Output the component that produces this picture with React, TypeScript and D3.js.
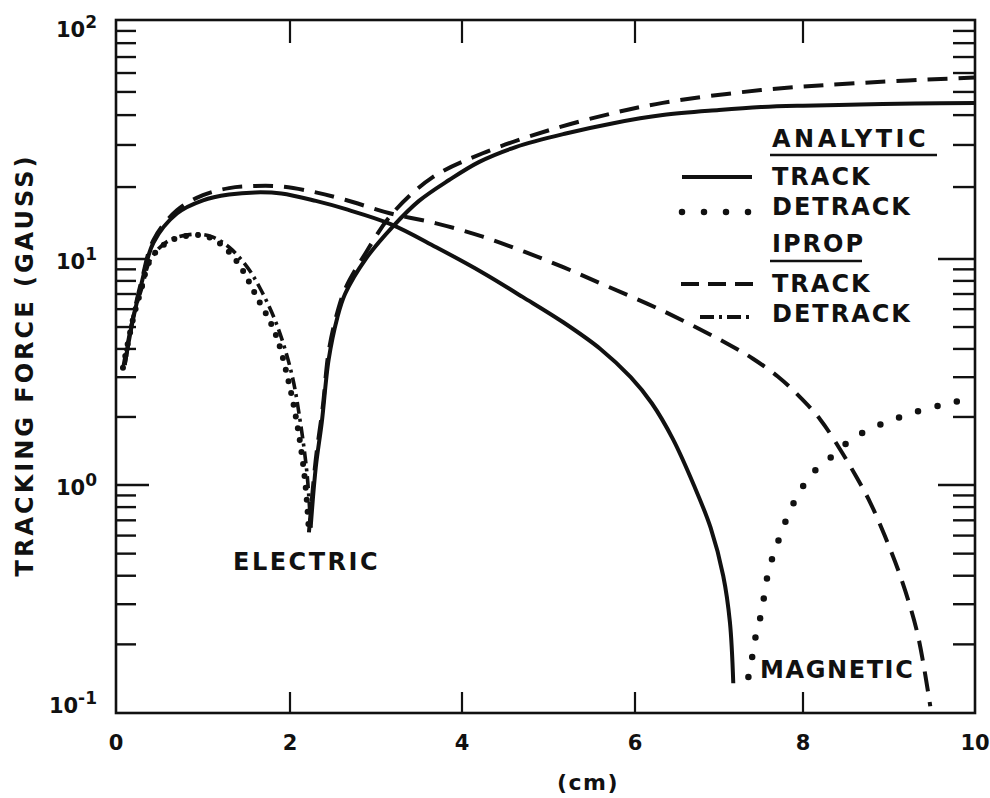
import React from "react";
import * as d3 from "d3";

// Tracking force vs. distance (cm), log scale in gauss.
// Each series is split into its electric and magnetic branches.

const X_TICKS = [0, 2, 4, 6, 8, 10];
const Y_DECADES = [0.1, 1, 10, 100];
const Y_DECADE_LABELS = [
  { base: "10", exp: "-1" },
  { base: "10", exp: "0" },
  { base: "10", exp: "1" },
  { base: "10", exp: "2" },
];

// ANALYTIC – TRACK (solid)
const analyticTrackElectric: [number, number][] = [
  [0.1, 3.4], [0.2, 5.5], [0.3, 8.0], [0.43, 11.7], [0.7, 15.5], [1.0, 17.6],
  [1.3, 18.6], [1.6, 19.0], [1.9, 18.8], [2.3, 17.5], [2.64, 16.2], [3.17, 14.0],
  [3.7, 11.2], [4.24, 8.7], [4.7, 6.8], [5.17, 5.25], [5.6, 4.0], [5.95, 3.0],
  [6.2, 2.3], [6.45, 1.6], [6.7, 1.0], [6.9, 0.65], [7.05, 0.4], [7.13, 0.25],
  [7.17, 0.135],
];
const analyticTrackMagnetic: [number, number][] = [
  [2.24, 0.65], [2.3, 1.2], [2.37, 1.9], [2.45, 3.6], [2.55, 5.5], [2.64, 7.0],
  [2.88, 10.0], [3.19, 13.6], [3.5, 17.5], [3.85, 21.4], [4.2, 25.5], [4.62, 29.4],
  [5.2, 33.5], [5.75, 37], [6.33, 40], [7.0, 42], [7.5, 43.2], [8.0, 43.8],
  [8.66, 44.3], [9.3, 44.7], [10, 45],
];

// ANALYTIC – DETRACK (dotted)
const analyticDetrackElectric: [number, number][] = [
  [0.08, 3.3], [0.2, 5.5], [0.28, 7.1], [0.4, 10], [0.6, 11.8], [0.9, 12.6],
  [1.1, 12.2], [1.29, 10.8], [1.45, 9.0], [1.6, 7.0], [1.83, 4.7], [1.99, 2.8],
  [2.1, 1.7], [2.18, 1.0], [2.22, 0.62],
];
const analyticDetrackMagnetic: [number, number][] = [
  [7.35, 0.144], [7.4, 0.18], [7.44, 0.22], [7.5, 0.27], [7.59, 0.42], [7.67, 0.52],
  [7.75, 0.63], [7.85, 0.78], [7.96, 0.93], [8.08, 1.1], [8.23, 1.24], [8.39, 1.39],
  [8.57, 1.6], [8.9, 1.85], [9.3, 2.1], [9.7, 2.3], [10, 2.45],
];

// IPROP – TRACK (dashed)
const ipropTrackElectric: [number, number][] = [
  [0.1, 3.4], [0.2, 5.6], [0.3, 8.2], [0.43, 12], [0.7, 16], [1.0, 18.5],
  [1.3, 19.8], [1.6, 20.2], [1.9, 20.1], [2.3, 19.0], [2.64, 17.7], [3.17, 15.5],
  [3.7, 14.1], [4.24, 12.4], [4.7, 10.8], [5.17, 9.2], [5.67, 7.6], [6.33, 5.9],
  [7.11, 4.2], [7.4, 3.63], [7.7, 3.02], [7.95, 2.48], [8.2, 1.95], [8.45, 1.4],
  [8.63, 1.07], [8.78, 0.84], [8.95, 0.6], [9.13, 0.4], [9.33, 0.224], [9.48, 0.107],
];
const ipropTrackMagnetic: [number, number][] = [
  [2.22, 0.62], [2.3, 1.3], [2.38, 2.2], [2.45, 3.9], [2.55, 5.8], [2.65, 7.5],
  [2.88, 10.6], [3.19, 15.5], [3.66, 22], [4.24, 27.7], [5.02, 34.7], [5.75, 40.8],
  [6.33, 45], [7.5, 50.9], [8.66, 54.5], [10, 57.5],
];

// IPROP – DETRACK (dash-dot)
const ipropDetrackElectric: [number, number][] = [
  [0.08, 3.3], [0.2, 5.6], [0.3, 7.5], [0.4, 10], [0.6, 11.9], [0.9, 12.7],
  [1.1, 12.4], [1.3, 11.2], [1.5, 9.3], [1.65, 7.5], [1.85, 5.1], [2.02, 3.1],
  [2.12, 1.9], [2.2, 1.1], [2.24, 0.65],
];

const FONT = "'DejaVu Sans', Verdana, sans-serif";
const INK = "#111";

export default function App() {
  const left = 116, right = 975, top = 20, bottom = 713;

  const x = d3.scaleLinear().domain(X_TICKS).range([116, 290, 462, 635, 803, 975]);
  const yLin = d3
    .scaleLinear()
    .domain(Y_DECADES.map(Math.log10))
    .range([713, 485, 259, 20]);
  const y = (v: number) => yLin(Math.log10(v));

  const line = d3
    .line<[number, number]>()
    .x((d) => x(d[0]))
    .y((d) => y(d[1]))
    .curve(d3.curveCatmullRom.alpha(0.5));

  // minor ticks 2..9 within each decade
  const minor: number[] = [];
  Y_DECADES.slice(0, 3).forEach((d) => {
    for (let m = 2; m <= 9; m++) minor.push(m * d);
  });
  const innerMajor = Y_DECADES.slice(1, 3);
  const innerX = X_TICKS.slice(1, -1);

  const textStyle = {
    fontFamily: FONT,
    fontWeight: 700 as const,
    fill: INK,
  };

  return (
    <svg
      width={990}
      height={798}
      style={{ position: "absolute", left: 0, top: 0, background: "#fff" }}
    >
      <defs>
        <clipPath id="plotArea">
          <rect x={left} y={top} width={right - left} height={bottom - top} />
        </clipPath>
      </defs>

      {/* frame */}
      <rect
        x={left}
        y={top}
        width={right - left}
        height={bottom - top}
        fill="none"
        stroke={INK}
        strokeWidth={2.6}
      />

      {/* left and right ticks */}
      {minor.map((v) => (
        <g key={"mn" + v}>
          <line x1={left} x2={left + 20} y1={y(v)} y2={y(v)} stroke={INK} strokeWidth={2.4} />
          <line x1={right} x2={right - 22} y1={y(v)} y2={y(v)} stroke={INK} strokeWidth={2.4} />
        </g>
      ))}
      {innerMajor.map((v) => (
        <g key={"mj" + v}>
          <line x1={left} x2={left + 33} y1={y(v)} y2={y(v)} stroke={INK} strokeWidth={2.6} />
          <line x1={right} x2={right - 37} y1={y(v)} y2={y(v)} stroke={INK} strokeWidth={2.6} />
        </g>
      ))}

      {/* top and bottom ticks */}
      {innerX.map((v) => (
        <g key={"xt" + v}>
          <line x1={x(v)} x2={x(v)} y1={top} y2={top + 23} stroke={INK} strokeWidth={2.2} />
          <line x1={x(v)} x2={x(v)} y1={bottom} y2={bottom - 21} stroke={INK} strokeWidth={2.2} />
        </g>
      ))}

      {/* x tick labels */}
      {X_TICKS.map((v) => (
        <text
          key={"xl" + v}
          x={x(v)}
          y={750}
          textAnchor="middle"
          fontSize={21}
          style={textStyle}
        >
          {v}
        </text>
      ))}

      {/* y tick labels */}
      {Y_DECADES.map((v, i) => (
        <text
          key={"yl" + v}
          x={97}
          y={Math.min(Math.max(y(v) + 10, 37), 713)}
          textAnchor="end"
          fontSize={21}
          style={textStyle}
        >
          {Y_DECADE_LABELS[i].base}
          <tspan dy={-9} fontSize={17}>
            {Y_DECADE_LABELS[i].exp}
          </tspan>
        </text>
      ))}

      {/* axis titles */}
      <text
        x={588}
        y={790}
        textAnchor="middle"
        fontSize={22}
        letterSpacing={1.5}
        style={textStyle}
      >
        (cm)
      </text>
      <text
        transform="translate(33,365) rotate(-90)"
        textAnchor="middle"
        fontSize={24}
        letterSpacing={3}
        style={textStyle}
      >
        TRACKING FORCE (GAUSS)
      </text>

      {/* curves */}
      <g clipPath="url(#plotArea)" fill="none" stroke={INK}>
        <path d={line(ipropDetrackElectric) || ""} strokeWidth={3.6} strokeDasharray="12 5 3 5" />
        <path
          d={line(analyticDetrackElectric) || ""}
          strokeWidth={6}
          strokeLinecap="round"
          strokeDasharray="0 12"
        />
        <path
          d={line(analyticDetrackMagnetic) || ""}
          strokeWidth={6.5}
          strokeLinecap="round"
          strokeDasharray="0 20"
        />
        <path d={line(analyticTrackElectric) || ""} strokeWidth={4} />
        <path d={line(analyticTrackMagnetic) || ""} strokeWidth={4} />
        <path d={line(ipropTrackElectric) || ""} strokeWidth={4} strokeDasharray="20 11" />
        <path d={line(ipropTrackMagnetic) || ""} strokeWidth={4} strokeDasharray="20 11" />
      </g>

      {/* branch labels */}
      <text x={233} y={570} fontSize={24} letterSpacing={2.5} style={textStyle}>
        ELECTRIC
      </text>
      <text x={760} y={678} fontSize={24} letterSpacing={1.6} style={textStyle}>
        MAGNETIC
      </text>

      {/* legend */}
      <g style={textStyle} fontSize={24} letterSpacing={2}>
        <text x={772} y={147} letterSpacing={3.5}>ANALYTIC</text>
        <line x1={770} x2={937} y1={155} y2={155} stroke={INK} strokeWidth={2.6} />
        <line x1={682} x2={752} y1={177} y2={177} stroke={INK} strokeWidth={4} />
        <text x={772} y={185}>TRACK</text>
        <line
          x1={682}
          x2={749}
          y1={212}
          y2={212}
          stroke={INK}
          strokeWidth={6.5}
          strokeLinecap="round"
          strokeDasharray="0 22"
        />
        <text x={772} y={215}>DETRACK</text>
        <text x={772} y={252}>IPROP</text>
        <line x1={770} x2={862} y1={261} y2={261} stroke={INK} strokeWidth={2.6} />
        <line
          x1={681}
          x2={753}
          y1={284}
          y2={284}
          stroke={INK}
          strokeWidth={4}
          strokeDasharray="18 9"
        />
        <text x={772} y={292}>TRACK</text>
        <line
          x1={700}
          x2={753}
          y1={317}
          y2={317}
          stroke={INK}
          strokeWidth={4}
          strokeDasharray="14 5 3 5"
        />
        <text x={772} y={322}>DETRACK</text>
      </g>
    </svg>
  );
}
